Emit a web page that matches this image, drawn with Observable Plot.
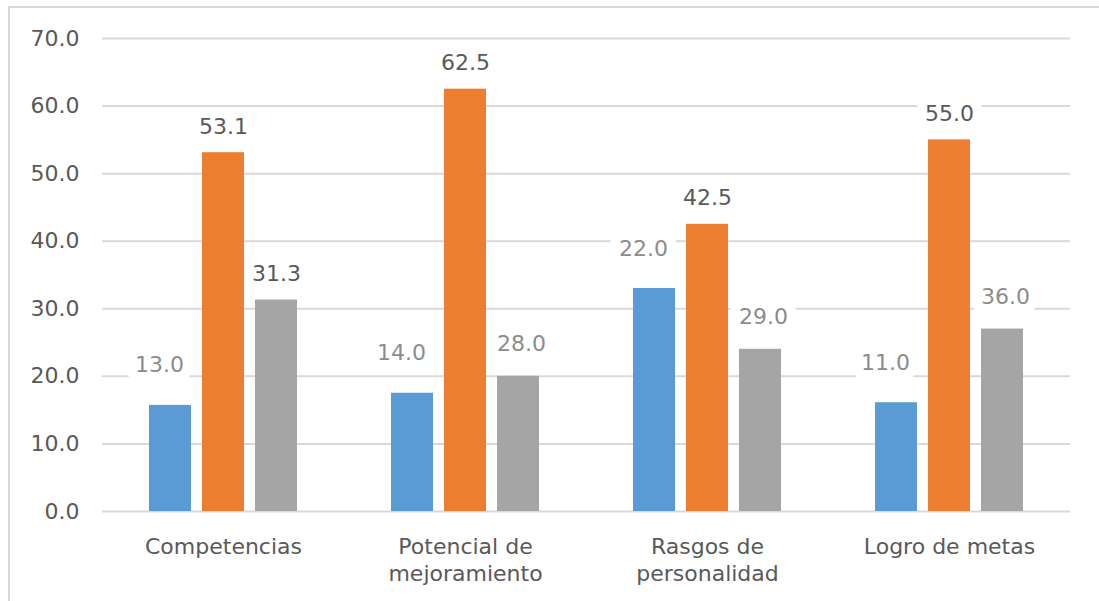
<!DOCTYPE html>
<html>
<head>
<meta charset="utf-8">
<script src="https://cdn.jsdelivr.net/npm/d3@7"></script>
<script src="https://cdn.jsdelivr.net/npm/@observablehq/plot@0.6"></script>
<style>
  html, body { margin: 0; padding: 0; background: #fff; overflow: hidden; }
  #wrap { position: relative; width: 1099px; height: 601px; }
  #frame { position: absolute; left: 8px; top: 6px; width: 1200px; height: 700px;
           border-top: 2px solid #d9d9d9; border-left: 2px solid #d9d9d9; pointer-events: none; }
  #chart { position: absolute; left: 0; top: 0; }
</style>
</head>
<body>
<div id="wrap"><div id="frame"></div><div id="chart"></div></div>
<script>
// Categories and their displayed (wrapped) labels
const categories = ["Competencias", "Potencial de mejoramiento", "Rasgos de personalidad", "Logro de metas"];
const categoryLabels = ["Competencias", "Potencial de\nmejoramiento", "Rasgos de\npersonalidad", "Logro de metas"];
const series = ["Serie 1", "Serie 2", "Serie 3"];
const seriesColors = ["#5b9bd5", "#ed7d31", "#a5a5a5"];

// Bar heights as drawn
const serie1Values = [15.7, 17.5, 33.0, 16.1];
const serie2Values = [53.1, 62.5, 42.5, 55.0];
const serie3Values = [31.3, 20.0, 24.0, 27.0];

// Data label texts as shown
const serie1Labels = ["13.0", "14.0", "22.0", "11.0"];
const serie2Labels = ["53.1", "62.5", "42.5", "55.0"];
const serie3Labels = ["31.3", "28.0", "29.0", "36.0"];

const yTicks = [0, 10, 20, 30, 40, 50, 60, 70];

const fmt = d3.format(".1f");
const valueSets = [serie1Values, serie2Values, serie3Values];
const labelSets = [serie1Labels, serie2Labels, serie3Labels];
const rows = [];
categories.forEach((c, i) => {
  series.forEach((s, j) => {
    const value = valueSets[j][i];
    const label = labelSets[j][i];
    rows.push({category: c, series: s, value, label, matched: label === fmt(value)});
  });
});
const labelOf = new Map(categories.map((c, i) => [c, categoryLabels[i]]));

const matched = rows.filter(d => d.matched);
const movedBlue = rows.filter(d => !d.matched && d.series === series[0]);
const movedGray = rows.filter(d => !d.matched && d.series === series[2]);

const labelCommon = {fx: "category", x: "series", y: "value", text: "label", lineAnchor: "bottom", fontSize: 22};
const halo = {fill: "white", stroke: "white", strokeWidth: 20, strokeLinejoin: "round"};

const chart = Plot.plot({
  width: 1099,
  height: 601,
  marginLeft: 102,
  marginRight: 29,
  marginTop: 38,
  marginBottom: 90,
  style: {fontFamily: "DejaVu Sans", fontSize: "22px", color: "#595959", background: "transparent"},
  fx: {domain: categories, padding: 0, axis: null, label: null},
  x: {domain: series, paddingInner: 0.215, paddingOuter: 0.869, axis: null, label: null},
  y: {domain: [0, 70], ticks: yTicks, tickFormat: fmt, tickSize: 0, tickPadding: 23, label: null},
  color: {domain: series, range: seriesColors},
  marks: [
    Plot.ruleY(yTicks, {stroke: "#d9d9d9", strokeWidth: 2}),
    Plot.text(matched, {...labelCommon, ...halo, dy: -19}),
    Plot.text(movedBlue, {...labelCommon, ...halo, dy: -33, dx: -11}),
    Plot.text(movedGray, {...labelCommon, ...halo, dy: -25, dx: 3}),
    Plot.barY(rows, {fx: "category", x: "series", y: "value", fill: "series"}),
    Plot.text(matched, {...labelCommon, dy: -19, fill: "#595959"}),
    Plot.text(movedBlue, {...labelCommon, dy: -33, dx: -11, fill: "#8c8c8c"}),
    Plot.text(movedGray, {...labelCommon, dy: -25, dx: 3, fill: "#8c8c8c"}),
    Plot.text(categories, {fx: d => d, text: d => labelOf.get(d), frameAnchor: "bottom", dy: 23,
      lineAnchor: "top", lineHeight: 1.23, fontSize: 22, fill: "#595959"})
  ]
});
document.getElementById("chart").appendChild(chart);
</script>
</body>
</html>
